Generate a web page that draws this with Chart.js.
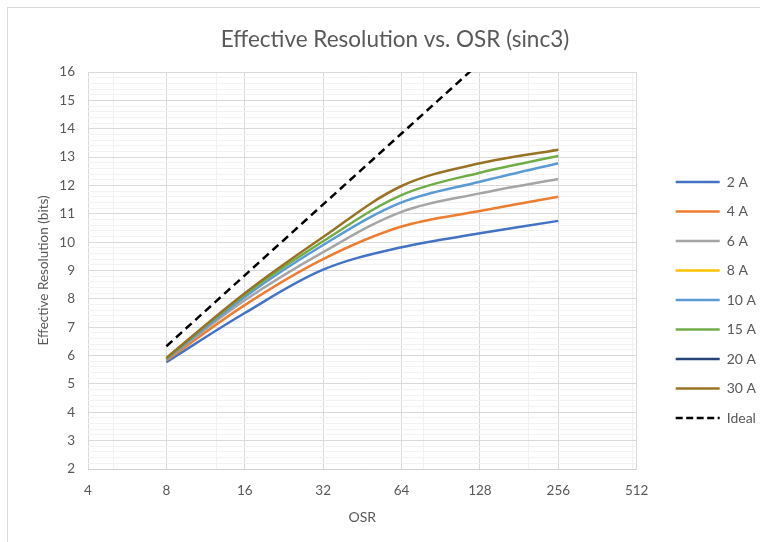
<!DOCTYPE html>
<html>
<head>
<meta charset="utf-8">
<script src="https://cdn.jsdelivr.net/npm/chart.js@4.4.1/dist/chart.umd.min.js"></script>
<style>
  html, body { margin: 0; padding: 0; background: #fff; overflow: hidden; }
  #frame { position: absolute; left: 7px; top: 7px; width: 800px; height: 600px; border: 1px solid #d9d9d9; }
  #chart { position: absolute; left: 8px; top: 8px; }
</style>
</head>
<body>
<div id="frame"></div>
<canvas id="chart" width="774" height="534"></canvas>
<script>
// values
const osr = [8, 16, 32, 64, 128, 256];
const res2A  = [5.77, 7.50, 9.03, 9.82, 10.31, 10.75];
const res4A  = [5.83, 7.78, 9.40, 10.55, 11.10, 11.60];
const res6A  = [5.87, 7.95, 9.65, 11.07, 11.72, 12.23];
const res8A  = [];
const res10A = [5.88, 8.07, 9.90, 11.40, 12.13, 12.78];
const res15A = [5.90, 8.15, 10.03, 11.66, 12.45, 13.04];
const res20A = [];
const res30A = [5.92, 8.20, 10.18, 11.98, 12.78, 13.26];
const resIdeal = [6.33, 8.83, 11.33, 13.83, 16.33, 18.83];

const seriesNames = ['2 A', '4 A', '6 A', '8 A', '10 A', '15 A', '20 A', '30 A'];
const seriesValues = [res2A, res4A, res6A, res8A, res10A, res15A, res20A, res30A];
const seriesColors = ['#4472C4', '#ED7D31', '#A5A5A5', '#FFC000', '#5B9BD5', '#70AD47', '#264478', '#997325'];

const xMajorTicks = [4, 8, 16, 32, 64, 128, 256, 512];
const xMinorTicks = [5, 12.5, 78, 196, 494];
const yTicks = [2, 3, 4, 5, 6, 7, 8, 9, 10, 11, 12, 13, 14, 15, 16];
const yMinorStep = 0.2;

const textColor = '#595959';
const fontFamily = 'Lato';

function toPoints(values) {
    return values.map((v, i) => ({ x: osr[i], y: v }));
}

const datasets = seriesNames.map((name, i) => ({
    label: name,
    data: toPoints(seriesValues[i]),
    borderColor: seriesColors[i],
    backgroundColor: seriesColors[i],
    borderWidth: 2.5,
    pointRadius: 0,
    tension: 0.35,
    fill: false,
    order: -i
}));

datasets.push({
    label: 'Ideal',
    data: toPoints(resIdeal),
    borderColor: '#000000',
    backgroundColor: '#000000',
    borderWidth: 2.5,
    borderDash: [8, 5],
    pointRadius: 0,
    tension: 0,
    fill: false,
    order: -20
});

function yAllTicks() {
    const out = [];
    yTicks.forEach((t, i) => {
        out.push(t);
        if (i < yTicks.length - 1) {
            for (let k = 1; k < 5; k++) out.push(Math.round((t + k * yMinorStep) * 10) / 10);
        }
    });
    return out;
}

// legend lines keep the dataset dash pattern
function legendLabels(chart) {
    const items = Chart.defaults.plugins.legend.labels.generateLabels(chart);
    items.forEach(item => {
        const ds = chart.data.datasets[item.datasetIndex];
        item.lineDash = ds.borderDash ? [7, 3.5] : [];
    });
    return items;
}

const ctx = document.getElementById('chart').getContext('2d');
const chart = new Chart(ctx, {
    type: 'line',
    data: { datasets: datasets },
    options: {
        responsive: false,
        animation: false,
        layout: { padding: { left: 16, right: 16, top: 0, bottom: 13 } },
        elements: { line: { capBezierPoints: false } },
        plugins: {
            tooltip: { enabled: false },
            title: {
                display: true,
                text: 'Effective Resolution vs. OSR (sinc3)',
                color: textColor,
                font: { family: fontFamily, size: 22.5, weight: 'normal' },
                padding: { top: 18.5, bottom: 18.5 }
            },
            legend: {
                position: 'right',
                align: 'start',
                title: { display: true, text: '', padding: { top: 137.1, bottom: 0 } },
                labels: {
                    usePointStyle: true,
                    pointStyle: 'line',
                    pointStyleWidth: 44,
                    boxWidth: 44,
                    boxHeight: 14,
                    padding: 15.5,
                    color: textColor,
                    font: { family: fontFamily, size: 14 },
                    generateLabels: legendLabels,
                    sort: (a, b) => a.datasetIndex - b.datasetIndex
                }
            }
        },
        scales: {
            x: {
                type: 'logarithmic',
                position: 'bottom',
                min: 4,
                max: 512,
                afterBuildTicks: scale => {
                    scale.ticks = xMajorTicks.concat(xMinorTicks).sort((a, b) => a - b).map(v => ({ value: v }));
                },
                afterFit: scale => { scale.height = 60; },
                ticks: {
                    autoSkip: false,
                    maxRotation: 0,
                    padding: 14,
                    color: textColor,
                    font: { family: fontFamily, size: 13.5 },
                    callback: v => xMajorTicks.includes(v) ? String(v) : ''
                },
                grid: {
                    drawTicks: false,
                    color: c => (c.tick && xMajorTicks.includes(c.tick.value)) ? '#d9d9d9' : '#f2f2f2'
                },
                border: { display: true, color: '#d0d0d0' },
                title: {
                    display: true,
                    text: 'OSR',
                    color: textColor,
                    font: { family: fontFamily, size: 14 },
                    padding: { top: 0, bottom: 3.6 }
                }
            },
            y: {
                type: 'linear',
                position: 'left',
                min: 2,
                max: 16,
                afterBuildTicks: scale => {
                    scale.ticks = yAllTicks().map(v => ({ value: v }));
                },
                afterFit: scale => { scale.width = 64; },
                ticks: {
                    autoSkip: false,
                    padding: 13,
                    color: textColor,
                    font: { family: fontFamily, size: 13.5 },
                    callback: v => yTicks.includes(v) ? String(v) : ''
                },
                grid: {
                    drawTicks: false,
                    color: c => (c.tick && yTicks.includes(c.tick.value)) ? '#d9d9d9' : '#f2f2f2'
                },
                border: { display: false },
                title: {
                    display: true,
                    text: 'Effective Resolution (bits)',
                    color: textColor,
                    font: { family: fontFamily, size: 13.5 },
                    padding: { top: 11.8, bottom: 0 }
                }
            },
            gap: {
                type: 'linear',
                position: 'right',
                display: true,
                afterFit: scale => { scale.width = 23.5; },
                ticks: { display: false },
                grid: { display: false },
                border: { display: false }
            }
        }
    }
});
</script>
</body>
</html>
